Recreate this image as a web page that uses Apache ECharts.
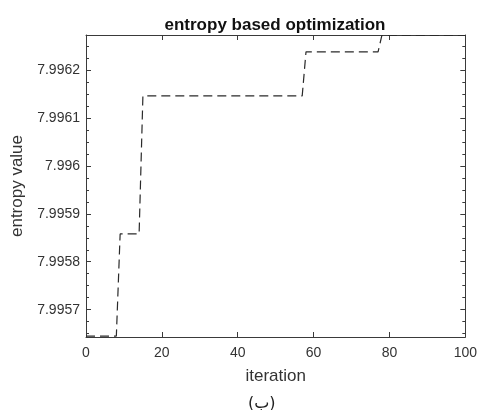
<!DOCTYPE html>
<html>
<head>
<meta charset="utf-8">
<script src="https://cdn.jsdelivr.net/npm/echarts@6/dist/echarts.min.js"></script>
<style>
  html, body { margin: 0; padding: 0; background: #fff; }
  #m1 { width: 480px; height: 410px; }
</style>
</head>
<body>
<div id="m1"></div>
<script>
// step points (iteration, entropy)
var iterations = [0, 8, 9, 14, 15, 57, 58, 77, 78, 100];
var entropy = [7.995645, 7.995645, 7.995858, 7.995858, 7.996146, 7.996146, 7.996238, 7.996238, 7.996272, 7.996272];

var yTicks = [7.9957, 7.9958, 7.9959, 7.996, 7.9961, 7.9962];
var yMinorTicks = [7.995650, 7.995675, 7.995725, 7.995750, 7.995775,
    7.995825, 7.995850, 7.995875, 7.995925, 7.995950, 7.995975,
    7.996025, 7.996050, 7.996075, 7.996125, 7.996150, 7.996175,
    7.996225, 7.996250];
var xTicks = [0, 20, 40, 60, 80, 100];

var yMin = 7.995643, yMax = 7.996273;
var font = 'Liberation Sans, Arial, sans-serif';
var axisColor = '#3a3a3a';

var pts = iterations.map(function (it, i) { return [it, entropy[i]]; });

function yAx(pos, ticks, len, labels, line) {
    return {
        type: 'value', position: pos, min: yMin, max: yMax,
        axisLine: { show: line, onZero: false, lineStyle: { color: axisColor, width: 1 } },
        axisTick: { show: true, inside: true, length: len, customValues: ticks,
            lineStyle: { color: axisColor } },
        axisLabel: { show: labels, customValues: ticks, margin: 6,
            color: '#333', fontSize: 14, fontFamily: font },
        splitLine: { show: false }
    };
}

function xAx(pos, labels) {
    return {
        type: 'value', min: 0, max: 100, position: pos,
        axisLine: { show: true, onZero: false, lineStyle: { color: axisColor } },
        axisTick: { inside: true, length: 5, customValues: xTicks, lineStyle: { color: axisColor } },
        axisLabel: { show: labels, customValues: xTicks, margin: 9,
            color: '#333', fontSize: 14, fontFamily: font },
        splitLine: { show: false }
    };
}

var myChart = echarts.init(document.getElementById('m1'));
var option = {
    animation: false,
    title: {
        text: 'entropy based optimization',
        left: 270, top: 12, textAlign: 'center',
        textStyle: { fontSize: 17, fontWeight: 'bold', color: '#111', fontFamily: font }
    },
    grid: { left: 86, right: 12, top: 35, bottom: 73 },
    xAxis: [
        Object.assign(xAx('bottom', true), {
            name: 'iteration', nameLocation: 'middle', nameGap: 31,
            nameTextStyle: { color: '#333', fontSize: 17, fontFamily: font }
        }),
        xAx('top', false)
    ],
    yAxis: [
        Object.assign(yAx('left', yTicks, 5, true, true), {
            name: 'entropy value', nameLocation: 'middle', nameGap: 51,
            nameTextStyle: { color: '#333', fontSize: 17, fontFamily: font }
        }),
        yAx('right', yTicks, 5, false, true),
        yAx('left', yMinorTicks, 3, false, false),
        yAx('right', yMinorTicks, 3, false, false)
    ],
    graphic: [{
        type: 'text', left: 248, top: 396,
        style: { text: '(ب)', fontSize: 16, fill: '#222',
            fontFamily: 'DejaVu Sans, sans-serif' }
    }],
    series: [{
        type: 'line',
        data: pts,
        showSymbol: false,
        clip: false,
        lineStyle: { color: '#2a2a2a', width: 1.2, type: [9, 5] }
    }]
};
myChart.setOption(option);
</script>
</body>
</html>
